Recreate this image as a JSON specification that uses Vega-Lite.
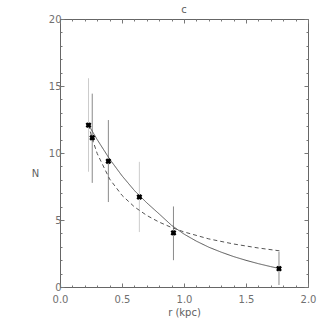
{
  "$schema": "https://vega.github.io/schema/vega-lite/v6.json",
  "autosize": "none",
  "width": 248,
  "height": 268,
  "padding": {"left": 60, "top": 19, "right": 19, "bottom": 40},
  "background": "white",
  "config": {
    "view": {"stroke": "#666", "strokeWidth": 1},
    "font": "DejaVu Sans",
    "axis": {"grid": false, "domain": false, "labelFont": "DejaVu Sans", "labelFontSize": 10, "labelColor": "#707070", "titleFont": "DejaVu Sans", "titleFontSize": 10, "titleFontWeight": "normal", "titleColor": "#606060", "tickColor": "#777", "tickWidth": 1}
  },
  "title": {"text": "c", "fontSize": 10, "fontWeight": "normal", "color": "#606060", "font": "DejaVu Sans", "offset": -1},
  "datasets": {
    "pts": [
      {"r": 0.23, "N": 12.08, "lo": 8.6, "hi": 15.58, "grp": "light"},
      {"r": 0.26, "N": 11.14, "lo": 7.77, "hi": 14.43, "grp": "dark"},
      {"r": 0.39, "N": 9.39, "lo": 6.34, "hi": 12.46, "grp": "dark"},
      {"r": 0.64, "N": 6.72, "lo": 4.1, "hi": 9.34, "grp": "light"},
      {"r": 0.915, "N": 4.04, "lo": 2.0, "hi": 6.01, "grp": "dark"},
      {"r": 1.766, "N": 1.37, "lo": 0.15, "hi": 2.62, "grp": "dark"}
    ],
    "curves": [
      {"r": 0.23, "N": 12.1, "model": "exp"},
      {"r": 0.3, "N": 11.0, "model": "exp"},
      {"r": 0.4, "N": 9.55, "model": "exp"},
      {"r": 0.5, "N": 8.3, "model": "exp"},
      {"r": 0.6, "N": 7.2, "model": "exp"},
      {"r": 0.7, "N": 6.28, "model": "exp"},
      {"r": 0.8, "N": 5.45, "model": "exp"},
      {"r": 0.9, "N": 4.6, "model": "exp"},
      {"r": 1.0, "N": 3.95, "model": "exp"},
      {"r": 1.1, "N": 3.42, "model": "exp"},
      {"r": 1.2, "N": 2.97, "model": "exp"},
      {"r": 1.3, "N": 2.6, "model": "exp"},
      {"r": 1.4, "N": 2.27, "model": "exp"},
      {"r": 1.5, "N": 1.99, "model": "exp"},
      {"r": 1.6, "N": 1.74, "model": "exp"},
      {"r": 1.7, "N": 1.52, "model": "exp"},
      {"r": 1.77, "N": 1.38, "model": "exp"},
      {"r": 0.23, "N": 12.1, "model": "pow"},
      {"r": 0.26, "N": 11.06, "model": "pow"},
      {"r": 0.3, "N": 9.96, "model": "pow"},
      {"r": 0.4, "N": 8.06, "model": "pow"},
      {"r": 0.5, "N": 6.84, "model": "pow"},
      {"r": 0.6, "N": 5.98, "model": "pow"},
      {"r": 0.7, "N": 5.34, "model": "pow"},
      {"r": 0.8, "N": 4.84, "model": "pow"},
      {"r": 0.9, "N": 4.44, "model": "pow"},
      {"r": 1.0, "N": 4.11, "model": "pow"},
      {"r": 1.2, "N": 3.59, "model": "pow"},
      {"r": 1.4, "N": 3.21, "model": "pow"},
      {"r": 1.6, "N": 2.91, "model": "pow"},
      {"r": 1.77, "N": 2.7, "model": "pow"}
    ]
  },
  "layer": [
    {
      "data": {"name": "pts"},
      "mark": {"type": "rule", "strokeWidth": 1},
      "encoding": {
        "x": {"field": "r", "type": "quantitative", "scale": {"domain": [0, 2], "nice": false, "zero": false},
          "axis": {"title": "r (kpc)", "titlePadding": 3,
            "values": [0,0.1,0.2,0.3,0.4,0.5,0.6,0.7,0.8,0.9,1.0,1.1,1.2,1.3,1.4,1.5,1.6,1.7,1.8,1.9,2.0],
            "labelExpr": "round(datum.value*10)%5==0 ? format(datum.value, '.1f') : ''",
            "tickSize": {"condition": {"test": "round(datum.value*10)%5==0", "value": -4}, "value": -2},
            "labelPadding": 11, "labelFlush": false}},
        "y": {"field": "lo", "type": "quantitative", "scale": {"domain": [0, 20], "nice": false},
          "axis": {"title": "N", "titleAngle": 0, "titleX": -25, "titleY": 154, "titleBaseline": "middle", "titleAlign": "center",
            "values": [0,1,2,3,4,5,6,7,8,9,10,11,12,13,14,15,16,17,18,19,20],
            "labelExpr": "datum.value%5==0 ? datum.value : ''",
            "tickSize": {"condition": {"test": "datum.value%5==0", "value": -4}, "value": -2},
            "labelPadding": 3, "labelFlush": false}},
        "y2": {"field": "hi"},
        "color": {"field": "grp", "type": "nominal", "scale": {"domain": ["light", "dark"], "range": ["#cccccc", "#8a8a8a"]}, "legend": null}
      }
    },
    {
      "data": {"name": "curves"},
      "mark": {"type": "line", "strokeWidth": 1, "color": "#555"},
      "encoding": {
        "x": {"field": "r", "type": "quantitative", "axis": null},
        "y": {"field": "N", "type": "quantitative", "axis": null},
        "strokeDash": {"field": "model", "type": "nominal", "scale": {"domain": ["exp", "pow"], "range": [[1, 0], [4, 3]]}, "legend": null}
      }
    },
    {
      "data": {"name": "pts"},
      "mark": {"type": "point", "shape": "square", "filled": true, "color": "black", "size": 16, "opacity": 1},
      "encoding": {
        "x": {"field": "r", "type": "quantitative", "axis": null},
        "y": {"field": "N", "type": "quantitative", "axis": null}
      }
    },
    {
      "data": {"name": "pts"},
      "mark": {"type": "point", "shape": "cross", "angle": 45, "filled": true, "color": "black", "size": 36, "opacity": 1},
      "encoding": {
        "x": {"field": "r", "type": "quantitative",
          "axis": {"orient": "top", "title": null, "labels": false,
            "values": [0,0.1,0.2,0.3,0.4,0.5,0.6,0.7,0.8,0.9,1.0,1.1,1.2,1.3,1.4,1.5,1.6,1.7,1.8,1.9,2.0],
            "tickSize": {"condition": {"test": "round(datum.value*10)%5==0", "value": -4}, "value": -2}}},
        "y": {"field": "N", "type": "quantitative",
          "axis": {"orient": "right", "title": null, "labels": false,
            "values": [0,1,2,3,4,5,6,7,8,9,10,11,12,13,14,15,16,17,18,19,20],
            "tickSize": {"condition": {"test": "datum.value%5==0", "value": -4}, "value": -2}}}
      }
    }
  ],
  "resolve": {"axis": {"x": "independent", "y": "independent"}}
}
